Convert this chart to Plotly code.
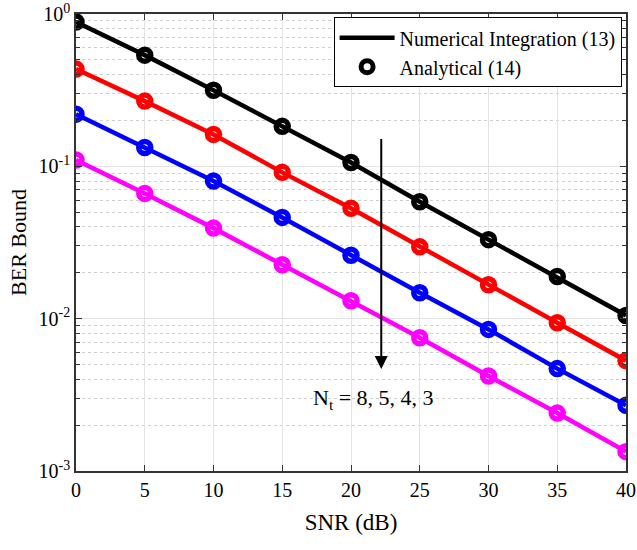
import plotly.graph_objects as go

snr = [0, 5, 10, 15, 20, 25, 30, 35, 40]
nt_labels = ["8", "5", "4", "3"]
ber_nt8 = [0.886, 0.537, 0.316, 0.183, 0.106, 0.0585, 0.033, 0.0189, 0.0105]
ber_nt5 = [0.435, 0.268, 0.162, 0.0913, 0.0530, 0.0296, 0.0167, 0.0094, 0.0053]
ber_nt4 = [0.220, 0.133, 0.080, 0.0462, 0.0261, 0.0148, 0.0085, 0.0047, 0.0027]
ber_nt3 = [0.110, 0.0664, 0.0393, 0.0226, 0.0131, 0.0075, 0.0042, 0.0024, 0.00134]
colors = ["black", "red", "blue", "magenta"]
series = [ber_nt8, ber_nt5, ber_nt4, ber_nt3]

y_ticks = [1e-3, 1e-2, 1e-1, 1]
y_ticktext = ["10<sup>-3</sup>", "10<sup>-2</sup>", "10<sup>-1</sup>", "10<sup>0</sup>"]
minor_vals = [m * 10 ** e for e in (-3, -2, -1) for m in range(2, 10)]

FONT = "Liberation Serif, Times New Roman, serif"

fig = go.Figure()
for i, (vals, c) in enumerate(zip(series, colors)):
    fig.add_trace(go.Scatter(
        x=snr, y=vals, mode="lines", line=dict(color=c, width=4.5),
        name="Numerical Integration (13)", showlegend=(i == 0)))
for i, (vals, c) in enumerate(zip(series, colors)):
    fig.add_trace(go.Scatter(
        x=snr, y=vals, mode="markers",
        marker=dict(symbol="circle-open", size=12, color=c, line=dict(width=5.5, color=c)),
        name="Analytical (14)", showlegend=(i == 0)))

fig.add_annotation(x=22.2, y=-2.33, ax=22.2, ay=-0.81, xref="x", yref="y",
                   axref="x", ayref="y", text="", showarrow=True,
                   arrowhead=2, arrowsize=1.3, arrowwidth=2, arrowcolor="black")
fig.add_annotation(x=21.6, y=-2.53, xref="x", yref="y", showarrow=False,
                   text="N<sub>t</sub> = " + ", ".join(nt_labels),
                   font=dict(family=FONT, size=22, color="black"))

fig.update_layout(
    width=637, height=550,
    margin=dict(l=76, r=11, t=14, b=79),
    paper_bgcolor="white", plot_bgcolor="white",
    font=dict(family=FONT, size=20, color="black"),
    legend=dict(x=0.992, y=0.993, xanchor="right", yanchor="top",
                bgcolor="white", bordercolor="black", borderwidth=1,
                font=dict(family=FONT, size=20), tracegroupgap=0,
                itemwidth=55),
)
fig.update_xaxes(
    range=[0, 40], dtick=5, tick0=0, automargin=False,
    showline=True, linecolor="#333", linewidth=1.5, mirror="ticks",
    ticks="inside", ticklen=6, tickcolor="#333",
    showgrid=True, gridcolor="#e3e3e3", gridwidth=1, zeroline=False,
    title=dict(text="SNR (dB)", font=dict(size=23), standoff=14),
    tickfont=dict(size=20),
)
fig.update_yaxes(
    type="log", range=[-3, 0], automargin=False,
    tickvals=y_ticks, ticktext=y_ticktext,
    showline=True, linecolor="#333", linewidth=1.5, mirror="allticks",
    ticks="inside", ticklen=6, tickcolor="#333",
    showgrid=True, gridcolor="#e3e3e3", gridwidth=1, zeroline=False,
    minor=dict(tickvals=minor_vals, ticks="inside", ticklen=4, tickcolor="#333",
               showgrid=True, gridcolor="#cfcfcf", griddash="dot", gridwidth=1),
    title=dict(text="BER Bound", font=dict(size=22), standoff=6),
    tickfont=dict(size=20),
)

fig.write_html("out.html", config={"displayModeBar": False},
               post_script="document.body.style.margin='0';document.body.style.overflow='hidden';")
